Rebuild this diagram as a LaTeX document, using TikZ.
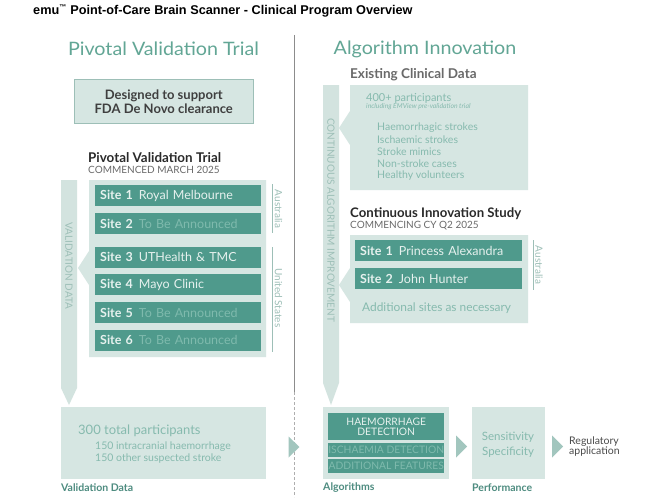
\documentclass[tikz,border=0pt]{standalone}
\usepackage{fontspec}
\setmainfont{Lato}
\newfontfamily\arialfont{Liberation Sans}
\definecolor{tealbar}{HTML}{4F9A8C}
\definecolor{pale}{HTML}{D6E6E2}
\definecolor{palebar}{HTML}{D3E3DF}
\definecolor{head}{HTML}{62A695}
\definecolor{soft}{HTML}{86BAAE}
\definecolor{tba}{HTML}{7FBAAD}
\definecolor{barname}{HTML}{E6F1EE}
\definecolor{bartext}{HTML}{9DBFB7}
\definecolor{arrowc}{HTML}{A2C6BE}
\definecolor{divg}{HTML}{8C8C8C}
\definecolor{darktxt}{HTML}{2A2A2A}
\definecolor{midtxt}{HTML}{6A6A6A}
\definecolor{labteal}{HTML}{4E8C80}
\newcommand{\fs}[1]{\fontsize{#1}{#1}\selectfont}
\begin{document}
\begin{tikzpicture}[x=1pt,y=-1pt,
  txt/.style={inner sep=0pt, anchor=west},
  sitebar/.style={fill=tealbar, anchor=north west, text width=156pt, inner xsep=5pt, inner ysep=0pt, minimum height=21pt, align=left, font=\fs{12.5}, text=barname},
  algbar/.style={fill=tealbar, anchor=north west, minimum width=116pt, inner sep=0pt, align=center},
  country/.style={rotate=-90, inner sep=0pt, font=\fs{10}, text=bartext},
  vlabel/.style={rotate=-90, inner sep=0pt, font=\fs{10}, text=bartext},
  heading/.style={inner sep=0pt, font=\fs{18.5}, text=head},
  sublabel/.style={inner sep=0pt, anchor=west, font=\bfseries\fs{10.5}, text=labteal},
]
\useasboundingbox[fill=white] (0,0) rectangle (650,503);

% title
\node[inner sep=0pt, anchor=west, font=\arialfont\bfseries\fs{12.7}] (title) at (33,11) {emu\textsuperscript{\fs{7}™} Point-of-Care Brain Scanner - Clinical Program Overview};

% divider
\draw[divg, line width=0.9pt] (294,35) -- (294,392);
\draw[divg!70, line width=0.8pt, dash pattern=on 3pt off 2pt] (294,392) -- (294,497);

% headings
\node[heading] (h1) at (163.5,49) {\scalebox{1.065}[1]{Pivotal Validation Trial}};
\node[heading] (h2) at (425,49) {\scalebox{1.065}[1]{Algorithm Innovation}};

% FDA box
\node[fill=pale, draw=bartext, line width=0.5pt, minimum width=179pt, minimum height=44pt, anchor=north west, inner sep=0pt, align=center, font=\bfseries\fs{13}, text=darktxt!90] (fda) at (74,79) {Designed to support\\[1pt]FDA De Novo clearance};

% Pivotal trial heading
\node[txt, font=\bfseries\fs{13.4}, text=darktxt] (pvt) at (88,157.5) {Pivotal Validation Trial};
\node[txt, font=\fs{10}, text=midtxt] (pvtd) at (88,170) {COMMENCED MARCH 2025};

% left vertical bar
\fill[palebar] (61,180) -- (77,180) -- (77,388) -- (69,405) -- (61,388) -- cycle;
\node[vlabel] (vd) at (69,266) {VALIDATION DATA};

% left panel
\fill[pale] (89,180) -- (266,180) -- (266,357) -- (89,357) -- (89,285) -- (78,268) -- (89,251) -- cycle;

\node[sitebar] (s1) at (95,185) {\textbf{Site 1}\hspace{6pt}Royal Melbourne};
\node[sitebar] (s2) at (95,213) {\textbf{Site 2}\hspace{6pt}\textcolor{tba}{To Be Announced}};
\node[sitebar] (s3) at (95,246.5) {\textbf{Site 3}\hspace{6pt}UTHealth \& TMC};
\node[sitebar] (s4) at (95,274) {\textbf{Site 4}\hspace{6pt}Mayo Clinic};
\node[sitebar] (s5) at (95,302) {\textbf{Site 5}\hspace{6pt}\textcolor{tba}{To Be Announced}};
\node[sitebar] (s6) at (95,329.5) {\textbf{Site 6}\hspace{6pt}\textcolor{tba}{To Be Announced}};

% country labels left
\draw[bartext, line width=0.6pt] (272,184) -- (272,233);
\node[country] (aus1) at (278.5,209) {Australia};
\draw[bartext, line width=0.6pt] (272,247) -- (272,352);
\node[country] (us1) at (278.5,298) {United States};

% right vertical bar
\fill[palebar] (323,85) -- (339,85) -- (339,383) -- (331,405) -- (323,383) -- cycle;
\node[vlabel] (cai) at (331,220) {CONTINUOUS ALGORITHM IMPROVEMENT};

% existing clinical data
\node[txt, font=\bfseries\fs{13.5}, text=midtxt] (ecd) at (350,75) {Existing Clinical Data};
\fill[pale] (350,85) -- (528,85) -- (528,190) -- (350,190) -- (350,145) -- (339,128) -- (350,111) -- cycle;
\node[txt, font=\fs{11}, text=soft] (p400) at (366,98) {400+ participants};
\node[txt, font=\itshape\fs{6.8}, text=soft] (emv) at (366,107) {including EMView pre-validation trial};
\node[txt, font=\fs{10.5}, text=soft] (l1) at (377,127.5) {Haemorrhagic strokes};
\node[txt, font=\fs{10.5}, text=soft] (l2) at (377,139.5) {Ischaemic strokes};
\node[txt, font=\fs{10.5}, text=soft] (l3) at (377,151.5) {Stroke mimics};
\node[txt, font=\fs{10.5}, text=soft] (l4) at (377,163.5) {Non-stroke cases};
\node[txt, font=\fs{10.5}, text=soft] (l5) at (377,175.5) {Healthy volunteers};

% continuous innovation study
\node[txt, font=\bfseries\fs{13.2}, text=darktxt] (cis) at (350,214) {Continuous Innovation Study};
\node[txt, font=\fs{10}, text=midtxt] (cisd) at (350,226) {COMMENCING CY Q2 2025};
\fill[pale] (350,235) -- (528,235) -- (528,323) -- (350,323) -- (350,302) -- (339,285) -- (350,268) -- cycle;
\node[sitebar, text width=157pt] (r1) at (355,240) {\textbf{Site 1}\hspace{6pt}Princess Alexandra};
\node[sitebar, text width=157pt] (r2) at (355,268) {\textbf{Site 2}\hspace{6pt}John Hunter};
\node[txt, font=\fs{11.9}, text=soft] (add) at (362,308) {Additional sites as necessary};
\draw[bartext, line width=0.6pt] (533,240) -- (533,290);
\node[country] (aus2) at (539,265) {Australia};

% bottom: validation data
\fill[pale] (61,407) rectangle (266,479);
\node[txt, font=\fs{13}, text=soft] (p300) at (78,431) {300 total participants};
\node[txt, font=\fs{10.5}, text=soft] (ich) at (95,447) {150 intracranial haemorrhage};
\node[txt, font=\fs{10.5}, text=soft] (oss) at (95,458.5) {150 other suspected stroke};
\node[sublabel] (vdl) at (61,488) {Validation Data};

% arrows
\fill[arrowc] (288.5,436.5) -- (299.5,447) -- (288.5,457.5) -- cycle;
\fill[arrowc] (456,435.5) -- (467,446.5) -- (456,457.5) -- cycle;
\fill[arrowc] (552,435.5) -- (563,446.5) -- (552,457.5) -- cycle;

% algorithms
\fill[pale] (323,407) rectangle (449,479);
\node[algbar, minimum height=27pt, font=\fs{10.3}, text=barname] (hd) at (328,413) {HAEMORRHAGE\\DETECTION};
\node[algbar, minimum height=14pt, font=\fs{10.3}, text=tba] (isd) at (328,443) {ISCHAEMIA DETECTION};
\node[algbar, minimum height=14pt, font=\fs{10.3}, text=tba] (adf) at (328,459) {ADDITIONAL FEATURES};
\node[sublabel] (algl) at (323,488) {Algorithms};

% performance
\fill[pale] (472,407) rectangle (545,479);
\node[inner sep=0pt, font=\fs{11.5}, text=soft] (sens) at (508,437) {Sensitivity};
\node[inner sep=0pt, font=\fs{11.5}, text=soft] (spec) at (508,452.5) {Specificity};
\node[sublabel] (perfl) at (472,488) {Performance};

% regulatory
\node[txt, font=\fs{10.5}, text=darktxt!85, align=left] (reg) at (569,446.5) {Regulatory\\[-0.5pt]application};
\end{tikzpicture}
\end{document}
